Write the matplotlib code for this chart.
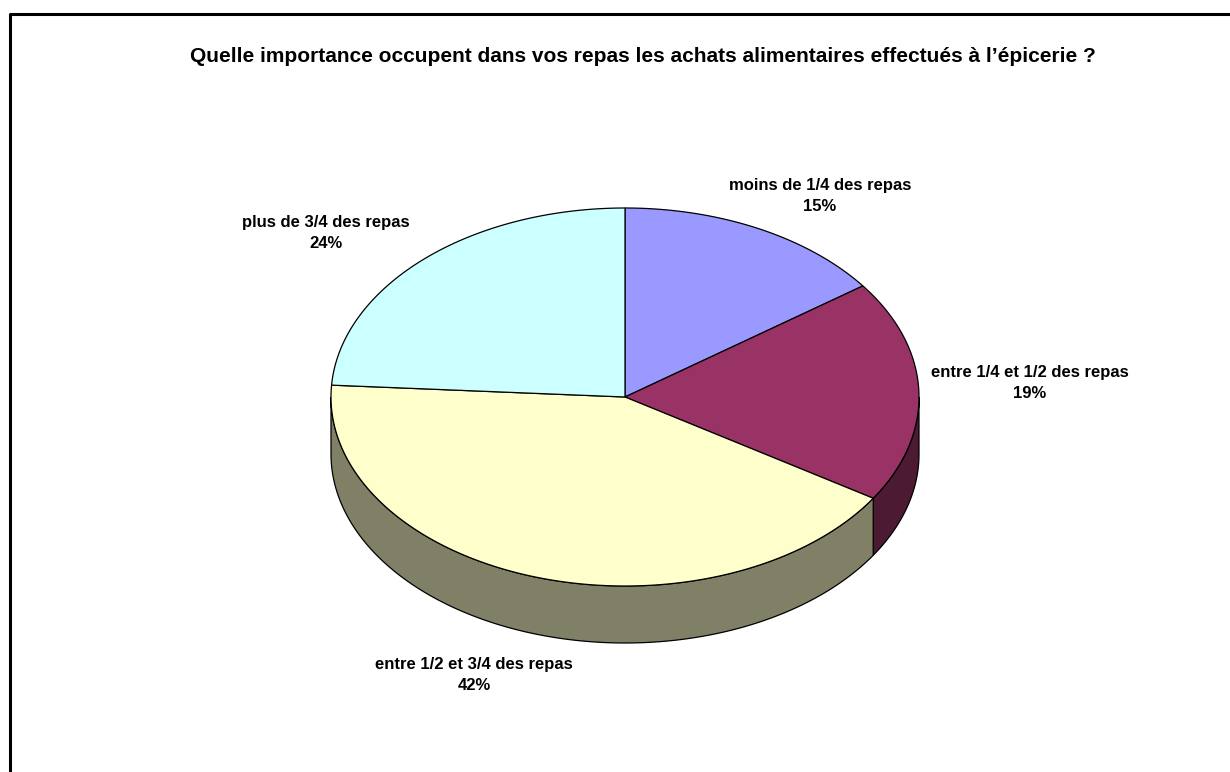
import numpy as np
import matplotlib
matplotlib.use("Agg")
import matplotlib.pyplot as plt
from matplotlib.patches import Polygon

# data
labels = ["moins de 1/4 des repas", "entre 1/4 et 1/2 des repas",
          "entre 1/2 et 3/4 des repas", "plus de 3/4 des repas"]
values = [15, 19, 42, 24]
top_colors = ["#9999FF", "#993366", "#FFFFCC", "#CCFFFF"]
side_colors = ["#4D4D80", "#4D1A33", "#808066", "#668080"]
title = "Quelle importance occupent dans vos repas les achats alimentaires effectués à l\u2019épicerie ?"

# layout (pixels)
cx, cy = 625, 397
ra, rb = 294, 189
depth = 57
label_pos = [(820, 196), (1030, 383), (474, 675), (326, 233)]

plt.rcParams["font.family"] = ["Liberation Sans", "DejaVu Sans"]
fig = plt.figure(figsize=(12.3, 7.72), dpi=100)
ax = fig.add_axes([0, 0, 1, 1])
ax.set_xlim(0, 1230)
ax.set_ylim(772, 0)
ax.axis("off")

def arc(t1, t2, dy=0, n=200):
    t = np.radians(np.linspace(t1, t2, n))
    return np.column_stack([cx + ra*np.cos(t), cy - rb*np.sin(t) + dy])

fracs = np.array(values) / np.sum(values)
cum = np.concatenate([[0], np.cumsum(fracs)])

# sides (front half only)
for i in range(len(values)):
    hi = 90 - 360*cum[i]
    lo = 90 - 360*cum[i+1]
    for shift in (0, -360, 360):
        a, b = max(lo + shift, -180), min(hi + shift, 0)
        if b > a:
            top = arc(a, b)
            bot = arc(b, a, depth)
            ax.add_patch(Polygon(np.vstack([top, bot]), closed=True,
                                 facecolor=side_colors[i], edgecolor="black",
                                 linewidth=0.9, zorder=1))

# top wedges
for i in range(len(values)):
    hi = 90 - 360*cum[i]
    lo = 90 - 360*cum[i+1]
    pts = np.vstack([[cx, cy], arc(hi, lo)])
    ax.add_patch(Polygon(pts, closed=True, facecolor=top_colors[i],
                         edgecolor="black", linewidth=0.9, zorder=2))

for i, (x, y) in enumerate(label_pos):
    ax.text(x, y, "%s\n%d%%" % (labels[i], values[i]), ha="center", va="center",
            fontsize=12, fontweight="bold", linespacing=1.45)

ax.text(643, 57, title, ha="center", va="center", fontsize=15, fontweight="bold")

# chart area border (only left and top visible)
ax.plot([10, 10, 1230], [772, 14, 14], color="black", linewidth=2.2, solid_capstyle="butt")

fig.savefig("out.png", dpi=100)
